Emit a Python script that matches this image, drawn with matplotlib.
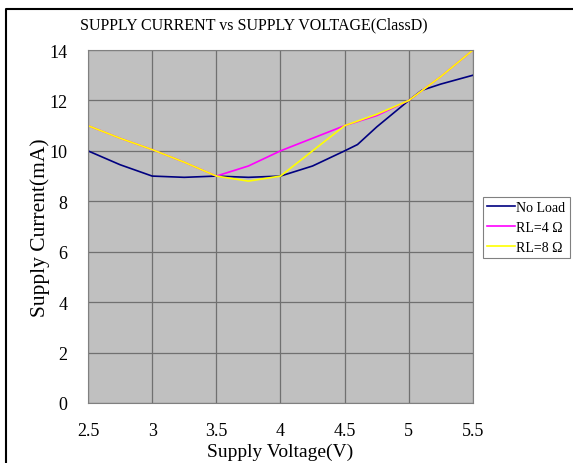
"""
Supply current vs supply voltage (Class D), three load cases
"""

import matplotlib
matplotlib.use("Agg")
import matplotlib.pyplot as plt
from matplotlib.lines import Line2D

plt.rcParams['font.family'] = ['Liberation Serif', 'DejaVu Serif']

# No load curve (has an extra kink near 4.6 V)
v_noload = [2.5, 2.75, 3.0, 3.25, 3.5, 3.75, 4.0, 4.25, 4.5, 4.6, 4.75, 5.0, 5.1, 5.25, 5.5]
i_noload = [10.0, 9.45, 9.0, 8.95, 9.0, 8.95, 9.0, 9.4, 10.0, 10.25, 10.95, 12.0, 12.4, 12.65, 13.0]

v_load = [2.5, 2.75, 3.0, 3.25, 3.5, 3.75, 4.0, 4.25, 4.5, 4.75, 5.0, 5.25, 5.5]
i_rl4 = [11.0, 10.5, 10.05, 9.55, 9.0, 9.4, 10.0, 10.5, 11.0, 11.4, 12.0, 12.95, 14.0]
i_rl8 = [11.0, 10.5, 10.05, 9.55, 9.0, 8.8, 9.0, 10.0, 11.0, 11.45, 12.0, 12.95, 14.0]

xticks = [2.5, 3, 3.5, 4, 4.5, 5, 5.5]
xlabels = ["2.5", "3", "3.5", "4", "4.5", "5", "5.5"]
yticks = [0, 2, 4, 6, 8, 10, 12, 14]

fig = plt.figure(figsize=(5.73, 4.64), dpi=100)
ax = fig.add_axes([88/573, 1-404/464, 385/573, 353/464])
ax.set_facecolor("#c0c0c0")

ax.plot(v_noload, i_noload, color="#000080", lw=1.2, label="No Load")
ax.plot(v_load, i_rl4, color="#ff00ff", lw=1.2, label="RL=4 Ω")
ax.plot(v_load, i_rl8, color="#ffff00", lw=1.2, label="RL=8 Ω")

ax.set_xlim(2.5, 5.5)
ax.set_ylim(0, 14)
ax.set_xticks(xticks)
ax.set_xticklabels(xlabels)
ax.set_yticks(yticks)
ax.grid(True, color="#707070", lw=0.9)
ax.set_axisbelow(True)
ax.tick_params(length=0, labelsize=13)
ax.tick_params(axis="x", pad=14)
ax.tick_params(axis="y", pad=15)
for s in ax.spines.values():
    s.set_color("#808080")

ax.set_xlabel("Supply Voltage(V)", fontsize=14, labelpad=2.5)
ax.set_ylabel("Supply Current(mA)", fontsize=15.5, labelpad=-1)
fig.text(254/573, 1-25/464, "SUPPLY CURRENT vs SUPPLY VOLTAGE(ClassD)",
         ha="center", va="center", fontsize=11.5)

leg = ax.legend(loc="upper left", bbox_to_anchor=(483/573, 1-198/464),
                bbox_transform=fig.transFigure, fontsize=10, frameon=True,
                fancybox=False, edgecolor="#808080", framealpha=1,
                handlelength=2.0, handletextpad=0.1, borderpad=0.3,
                labelspacing=0.5, borderaxespad=0)
leg.get_frame().set_linewidth(0.8)

# outer frame of the picture
fig.add_artist(Line2D([6/573, 6/573, 1], [0, 1-10/464, 1-10/464],
                      transform=fig.transFigure, color="black", lw=1.5))

fig.savefig("out.png", dpi=100)
